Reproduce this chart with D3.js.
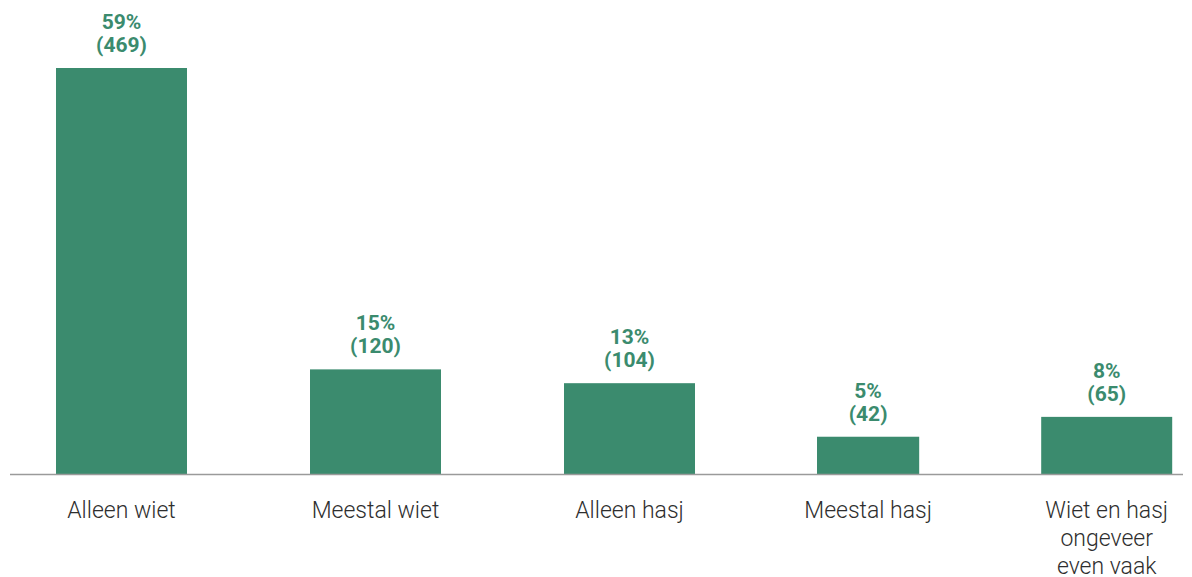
<!DOCTYPE html>
<html><head><meta charset="utf-8">
<script src="https://cdn.jsdelivr.net/npm/d3@7"></script>
<style>html,body{margin:0;padding:0;background:#fff;}svg{display:block;}</style>
</head><body>
<svg id="chart" width="1192" height="577"></svg>
<script>
const categories = ["Alleen wiet", "Meestal wiet", "Alleen hasj", "Meestal hasj", "Wiet en hasj ongeveer even vaak"];
const percentages = [59, 15, 13, 5, 8];
const counts = [469, 120, 104, 42, 65];

const W = 1192, H = 577;
const baseline = 474, topY = 69;
const green = "#3b8b6e";
const svg = d3.select("#chart");

// slot layout (flex-like): relative slot widths, fixed gap
const slotWeights = [1, 1, 1, 0.78, 1];
const slotUnit = 140, gap = 114, startX = 51.5, barFrac = 131 / 140;
const slots = [];
let cx = startX;
slotWeights.forEach((w, i) => { slots.push({x: cx, w: w * slotUnit}); cx += w * slotUnit + gap; });
const xPos = d3.scaleOrdinal().domain(categories).range(slots.map(s => s.x));
const xW = d3.scaleOrdinal().domain(categories).range(slots.map(s => s.w));

const y = d3.scaleLinear().domain([0, d3.max(counts)]).range([baseline, topY]);

const data = categories.map((c, i) => ({c, p: percentages[i], n: counts[i]}));

// bars
svg.append("g").selectAll("rect").data(data).join("rect")
  .attr("x", d => xPos(d.c) + xW(d.c) * (1 - barFrac) / 2)
  .attr("width", d => xW(d.c) * barFrac)
  .attr("y", d => y(d.n) - 1)
  .attr("height", d => baseline - y(d.n) + 2)
  .attr("fill", green);

// axis line
svg.append("line").attr("x1", 10).attr("x2", 1183).attr("y1", baseline + 0.5).attr("y2", baseline + 0.5)
  .attr("stroke", "#9a9a9a").attr("stroke-width", 1.5);

// value labels
const vl = svg.append("g").selectAll("text").data(data).join("text")
  .attr("text-anchor", "middle")
  .attr("font-family", "Roboto, sans-serif").attr("font-weight", 700).attr("font-size", 21)
  .attr("fill", green)
  .attr("transform", d => `translate(${xPos(d.c) + xW(d.c) / 2},${y(d.n) - 17})`);
vl.append("tspan").attr("x", 0).attr("dy", -23).text(d => d.p + "%");
vl.append("tspan").attr("x", 0).attr("dy", 23).text(d => "(" + d.n + ")");

// category labels with wrapping
const ctx = document.createElement("canvas").getContext("2d");
ctx.font = "300 23px Roboto";
function wrap(text, maxW) {
  const words = text.split(" "); const lines = []; let cur = "";
  words.forEach(w => {
    const t = cur ? cur + " " + w : w;
    if (ctx.measureText(t).width > maxW && cur) { lines.push(cur); cur = w; } else cur = t;
  });
  if (cur) lines.push(cur);
  return lines;
}
const cl = svg.append("g").selectAll("text").data(data).join("text")
  .attr("text-anchor", "middle")
  .attr("font-family", "Roboto, sans-serif").attr("font-weight", 300).attr("font-size", 23)
  .attr("fill", "#2e2e2e")
  .attr("transform", d => `translate(${xPos(d.c) + xW(d.c) / 2},518)`);
cl.each(function(d) {
  const lines = wrap(d.c, 138);
  d3.select(this).selectAll("tspan").data(lines).join("tspan")
    .attr("x", 0).attr("y", (l, i) => i * 28).text(l => l);
});
</script>
</body></html>
